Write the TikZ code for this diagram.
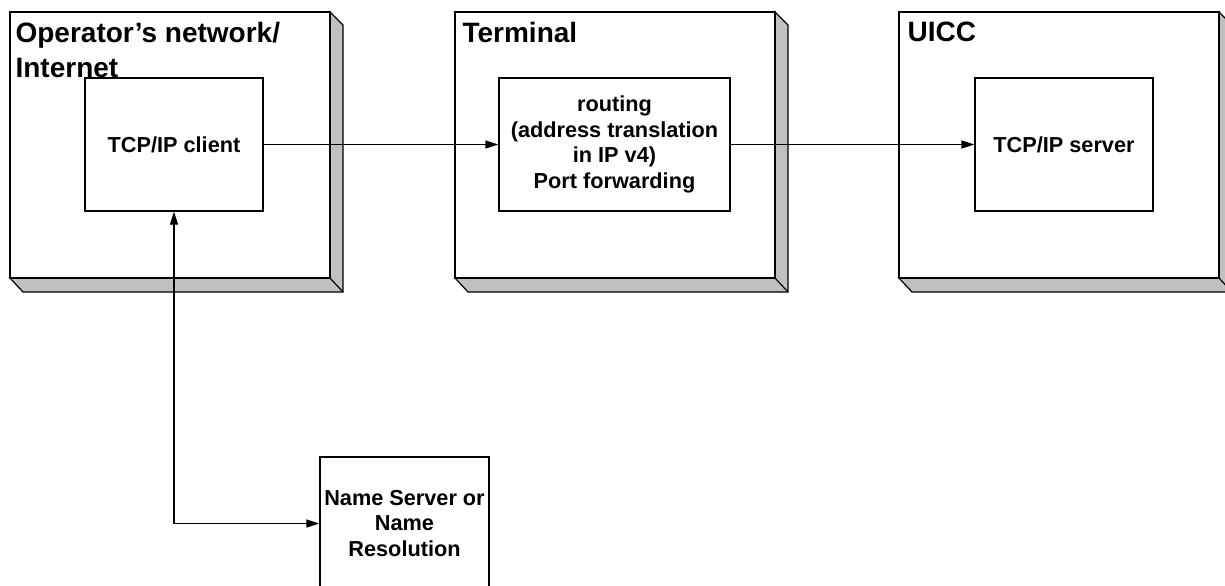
\documentclass[tikz,border=0pt]{standalone}
\usepackage{fontspec}
\setmainfont{Liberation Sans}
\usetikzlibrary{arrows.meta}
\definecolor{shade}{HTML}{C0C0C0}
\begin{document}
\begin{tikzpicture}[x=0.5pt,y=-0.5pt,line width=0.6pt,
  >={Triangle[length=6.5pt,width=4pt]},
  title/.style={anchor=north west,inner sep=0pt,align=left,
    font=\fontsize{14pt}{17.5pt}\selectfont\bfseries},
  unit/.style={draw,fill=white,minimum width=#1,minimum height=66.5pt,
    inner sep=0pt,align=center,font=\fontsize{10.85pt}{12.8pt}\selectfont\bfseries}]
  \useasboundingbox (0,0) rectangle (1225,585);

  % shaded frames
  \foreach \xa/\xb in {10/330,455/775,899/1219}{
    \draw[fill=shade] (\xb,12) -- (\xb+13,25) -- (\xb+13,292) -- (\xa+13,292)
      -- (\xa,278) -- (\xb,278) -- cycle;
    \draw (\xb,278) -- (\xb+13,292);
    \draw[fill=white] (\xa,12) rectangle (\xb,278);
  }

  \node[unit=89pt] (client) at (174,144.5) {TCP/IP client};
  \node[unit=115.5pt] (routing) at (614.5,144.5)
    {routing\\(address translation\\in IP v4)\\Port forwarding};
  \node[unit=89pt] (server) at (1064,144.5) {TCP/IP server};
  \node[unit=84.5pt] (names) at (404.5,523.5) {Name Server or\\Name\\Resolution};

  \node[title] (net) at (15,21.5) {Operator’s network/\\Internet};
  \node[title] (term) at (462,21.5) {Terminal};
  \node[title] (uicc) at (907,21.5) {UICC};

  \draw[->] (client) -- (routing);
  \draw[->] (routing) -- (server);
  \draw[<->] (names.west) -| (client.south);
\end{tikzpicture}
\end{document}
